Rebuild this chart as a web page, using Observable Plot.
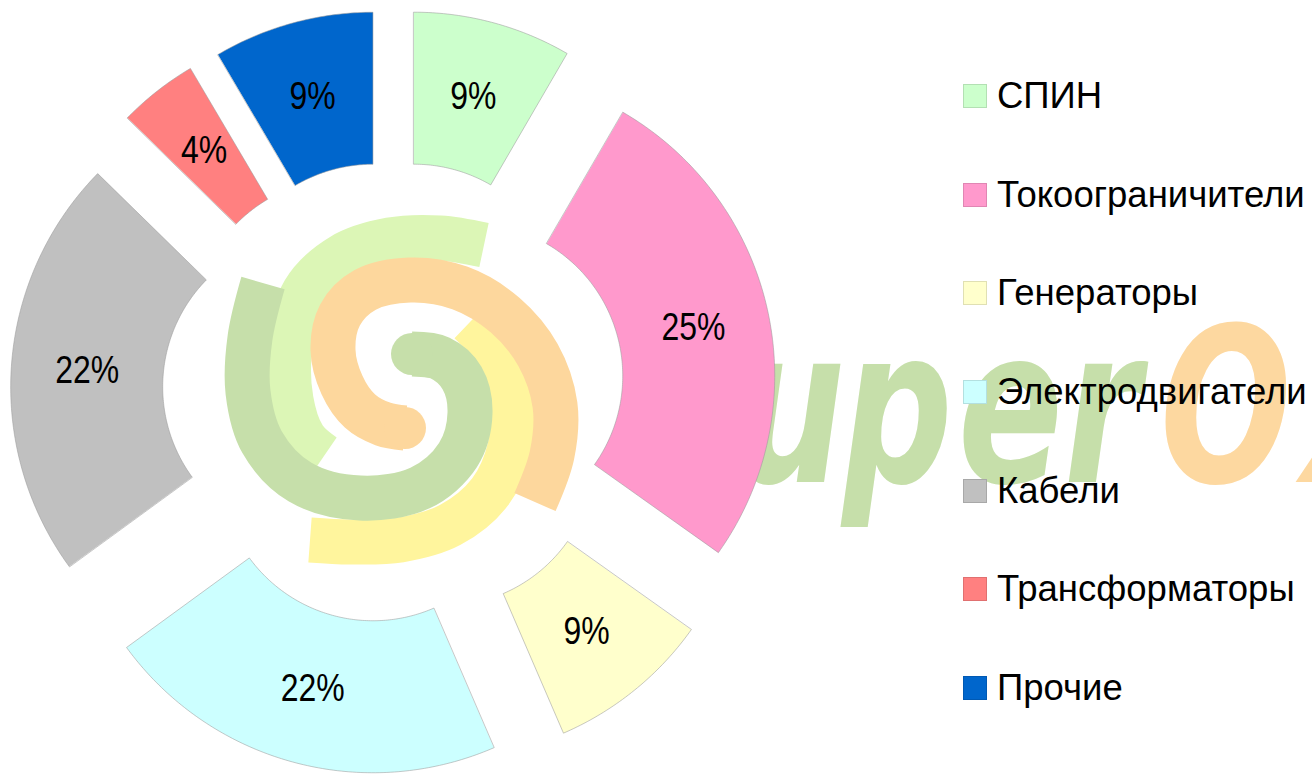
<!DOCTYPE html>
<html><head><meta charset="utf-8">
<script src="https://cdn.jsdelivr.net/npm/d3@7"></script>
<script src="https://cdn.jsdelivr.net/npm/@observablehq/plot@0.6"></script>
<style>
html,body{margin:0;padding:0;background:#fff;}
#wrap{position:relative;width:1312px;height:775px;overflow:hidden;}
#wm,#chart{position:absolute;left:0;top:0;}
#legend{position:absolute;left:963px;top:46.7px;font-family:"Liberation Sans",Arial,sans-serif;font-size:36.5px;color:#000;}
.item{height:98.67px;display:flex;align-items:center;white-space:nowrap;}
.sw{width:24px;height:24px;margin-right:10px;box-sizing:border-box;border:1px solid rgba(0,0,0,0.12);}
</style></head><body>
<div id="wrap"><svg id="wm" width="1312" height="775"></svg><div id="chart"></div><div id="legend"></div></div>
<script>
// ---- data ----
const categories = ["СПИН","Токоограничители","Генераторы","Электродвигатели","Кабели","Трансформаторы","Прочие"];
const shares = [8.4, 26.5, 8.7, 21.5, 22.4, 4.2, 8.5];          // angular share
const labels = ["9%","25%","9%","22%","22%","4%","9%"];           // printed labels
const colors = ["#ccffcc","#ff99cc","#ffffcc","#ccffff","#c0c0c0","#ff8080","#0066cc"];

// ---- layout ----
const W = 1312, H = 775;
const cx = 393, cy = 392, R = 305, r = 153, D = 78;

// ---- decorative watermark (logo behind the chart) ----
(function(){
  const svg = d3.select("#wm");
  const line = d3.line().curve(d3.curveCatmullRom.alpha(0.5));
  const bands = [
    {c:"#dcf6b6", p:[[484,245],[440,238],[390,240],[342,256],[304,292],[290,345],[291,400],[304,438],[324,456]]},
    {c:"#fff59d", p:[[470,322],[496,352],[512,397],[510,447],[490,492],[450,525],[400,540],[350,542],[310,540]]},
    {c:"#fdd79d", p:[[405,428],[383,424],[360,411],[342,385],[333,350],[340,315],[365,290],[410,280],[460,288],[505,315],[538,355],[555,405],[552,455],[535,502]]},
    {c:"#c6dfaa", p:[[263,283],[250,338],[248,392],[262,442],[300,482],[360,498],[420,488],[458,455],[470,413],[462,378],[440,358],[412,354]]}
  ];
  for (const b of bands) {
    svg.append("path").attr("d", line(b.p)).attr("fill","none").attr("stroke",b.c).attr("stroke-width",45).attr("stroke-linecap","butt");
  }
  svg.append("circle").attr("cx",405).attr("cy",428).attr("r",21).attr("fill","#fdd79d");
  svg.append("circle").attr("cx",412).attr("cy",354).attr("r",21).attr("fill","#c6dfaa");
  const sx = 0.72;
  const g = svg.append("g").attr("transform",`scale(${sx},1)`)
    .attr("font-family","DejaVu Sans, Liberation Sans, sans-serif").attr("font-weight","bold").attr("font-style","italic").attr("font-size",215);
  const letters = [["u",735,"#c6dfaa"],["p",842,"#c6dfaa"],["e",958,"#c6dfaa"],["r",1064,"#c6dfaa"],["O",1160,"#fdd8a0"],["x",1302,"#fdd8a0"]];
  for (const [t,x,c] of letters) g.append("text").attr("x", x/sx).attr("y",482).attr("fill",c).text(t);
})();

// ---- slices ----
const pie = d3.pie().sort(null).value(d => d)(shares);
const slices = pie.map((p, i) => {
  const m = (p.startAngle + p.endAngle) / 2;
  const rm = (R + r) / 2 + D;
  return {name: categories[i], a0: p.startAngle, a1: p.endAngle, label: labels[i],
          lx: cx + rm * Math.sin(m), ly: cy - rm * Math.cos(m)};
});
const pts = [];
for (const s of slices) {
  const m = (s.a0 + s.a1) / 2;
  const ox = cx + D * Math.sin(m), oy = cy - D * Math.cos(m);
  const n = Math.max(10, Math.ceil((s.a1 - s.a0) * 80));
  for (let k = 0; k <= n; k++) { const a = s.a0 + (s.a1 - s.a0) * k / n; pts.push({name: s.name, x: ox + R * Math.sin(a), y: oy - R * Math.cos(a)}); }
  for (let k = n; k >= 0; k--) { const a = s.a0 + (s.a1 - s.a0) * k / n; pts.push({name: s.name, x: ox + r * Math.sin(a), y: oy - r * Math.cos(a)}); }
}

const chart = Plot.plot({
  width: W, height: H, margin: 0,
  style: {background: "transparent"},
  x: {domain: [0, W], range: [0, W], axis: null},
  y: {domain: [0, H], range: [0, H], axis: null},
  color: {domain: categories, range: colors},
  marks: [
    Plot.line(pts, {x: "x", y: "y", z: "name", fill: "name", stroke: "#9a9a9a", strokeOpacity: 0.55, strokeWidth: 1, curve: "linear-closed"}),
    Plot.text(slices, {x: "lx", y: "ly", text: "label", fontSize: 39, fontFamily: "Liberation Sans, Arial, sans-serif", fill: "#000", className: "pct"})
  ]
});
document.getElementById("chart").appendChild(chart);
// condense the percentage labels (narrow face in the original); keep Plot's own position
d3.select(chart).selectAll(".pct text").each(function(){
  const t = d3.select(this);
  t.attr("transform", (t.attr("transform") || "") + " scale(0.82,1)");
});

// ---- legend ----
const leg = d3.select("#legend");
categories.forEach((c, i) => {
  const it = leg.append("div").attr("class","item");
  it.append("div").attr("class","sw").style("background", colors[i]);
  it.append("span").text(c);
});
</script>
</body></html>
